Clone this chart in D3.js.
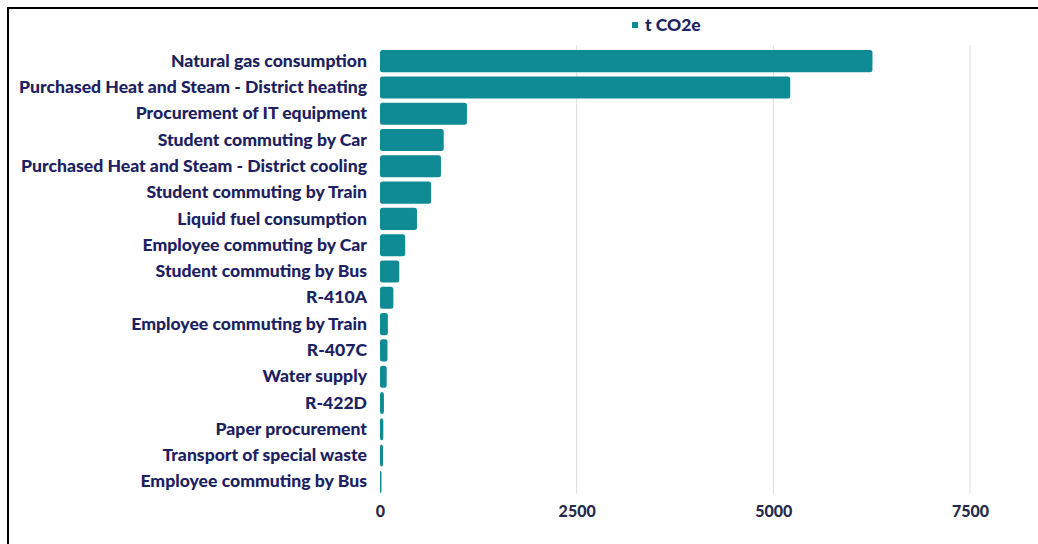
<!DOCTYPE html>
<html>
<head>
<meta charset="utf-8">
<script src="https://cdn.jsdelivr.net/npm/d3@7"></script>
<style>
  html, body { margin: 0; padding: 0; background: #fff; }
  svg { display: block; }
  text { font-family: Lato, "Open Sans", sans-serif; font-weight: 900; }
</style>
</head>
<body>
<svg id="chart" width="1038" height="544"></svg>
<script>
// Emission sources and their footprint in t CO2e
const categories = [
  "Natural gas consumption",
  "Purchased Heat and Steam - District heating",
  "Procurement of IT equipment",
  "Student commuting by Car",
  "Purchased Heat and Steam - District cooling",
  "Student commuting by Train",
  "Liquid fuel consumption",
  "Employee commuting by Car",
  "Student commuting by Bus",
  "R-410A",
  "Employee commuting by Train",
  "R-407C",
  "Water supply",
  "R-422D",
  "Paper procurement",
  "Transport of special waste",
  "Employee commuting by Bus"
];
const emissions = [6260, 5215, 1105, 810, 775, 650, 470, 320, 245, 170, 100, 95, 85, 50, 42, 38, 12];
const xTicks = [0, 2500, 5000, 7500];
const seriesName = "t CO2e";

const svg = d3.select("#chart");
const barColor = "#0f8b96";
const labelColor = "#1c2160";

// frame
svg.append("path")
  .attr("d", "M8,560 L8,8 L1050,8")
  .attr("fill", "none")
  .attr("stroke", "#000")
  .attr("stroke-width", 2);

const x = d3.scaleLinear().domain([0, 7500]).range([380, 970]);
const y = d3.scaleBand().domain(categories).range([48, 495]).paddingInner(0.16).paddingOuter(0.08);

// vertical gridlines
svg.append("g")
  .selectAll("line")
  .data(xTicks.filter(d => d > 0))
  .join("line")
  .attr("x1", d => x(d)).attr("x2", d => x(d))
  .attr("y1", 45).attr("y2", 494)
  .attr("stroke", "#dedede")
  .attr("stroke-width", 1);

// bars
svg.append("g")
  .selectAll("rect")
  .data(categories)
  .join("rect")
  .attr("x", x(0))
  .attr("y", d => y(d))
  .attr("width", (d, i) => Math.max(1.5, x(emissions[i]) - x(0)))
  .attr("height", y.bandwidth())
  .attr("rx", 2.5)
  .attr("fill", barColor);

// category labels
const yAxis = d3.axisLeft(y).tickSize(0).tickPadding(0);
const gy = svg.append("g").attr("transform", "translate(367,0)").call(yAxis);
gy.select(".domain").remove();
gy.selectAll("text")
  .attr("fill", labelColor)
  .style("font-size", "17.6px")
  .style("font-family", "Lato, sans-serif")
  .style("font-weight", 900);

// value axis labels
const xAxis = d3.axisBottom(x).tickValues(xTicks).tickFormat(d3.format("d")).tickSize(0).tickPadding(0);
const gx = svg.append("g").attr("transform", "translate(0,506)").call(xAxis);
gx.select(".domain").remove();
gx.selectAll("text")
  .attr("fill", "#252a4a")
  .style("font-size", "16px")
  .style("font-family", "Lato, sans-serif")
  .style("font-weight", 900);

// legend
const legend = svg.append("g").attr("transform", "translate(632,22)");
legend.append("rect").attr("width", 6).attr("height", 6).attr("fill", barColor);
legend.append("text")
  .attr("x", 13).attr("y", 3)
  .attr("dy", "0.35em")
  .attr("fill", labelColor)
  .style("font-size", "17.5px")
  .text(seriesName);
</script>
</body>
</html>
